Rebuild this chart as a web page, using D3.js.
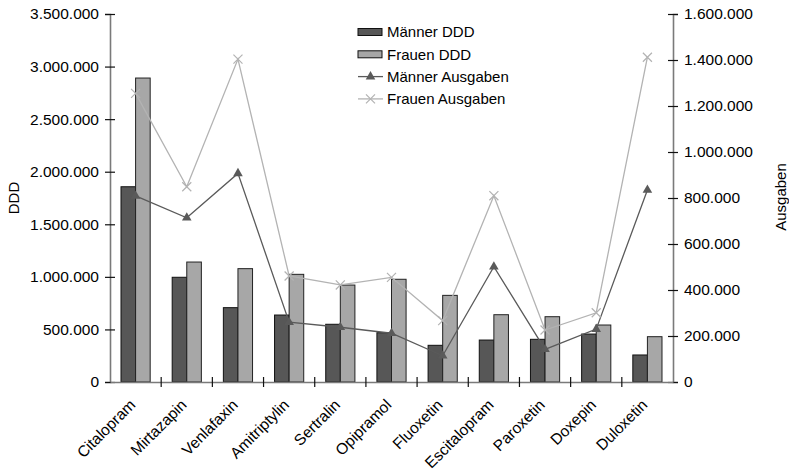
<!DOCTYPE html>
<html>
<head>
<meta charset="utf-8">
<script src="https://cdn.jsdelivr.net/npm/d3@7"></script>
<style>
  html, body { margin: 0; padding: 0; background: #fff; }
  svg text { font-family: "Liberation Sans", Arial, sans-serif; fill: #000; }
</style>
</head>
<body>
<svg id="chart" width="789" height="473"></svg>
<script>
// Antidepressiva: verordnete Tagesdosen (DDD) und Ausgaben nach Geschlecht
const categories = ["Citalopram", "Mirtazapin", "Venlafaxin", "Amitriptylin", "Sertralin",
  "Opipramol", "Fluoxetin", "Escitalopram", "Paroxetin", "Doxepin", "Duloxetin"];
const maennerDDD = [1857000, 996000, 707000, 637000, 549000, 469000, 349000, 399000, 406000, 456000, 257000];
const frauenDDD = [2891000, 1141000, 1078000, 1024000, 922000, 977000, 824000, 640000, 621000, 542000, 431000];
const maennerAusgaben = [809000, 714000, 907000, 260000, 238000, 212000, 114000, 501000, 142000, 230000, 835000];
const frauenAusgaben = [1255000, 849000, 1404000, 461000, 422000, 455000, 267000, 810000, 226000, 301000, 1412000];
const leftTicks = [0, 500000, 1000000, 1500000, 2000000, 2500000, 3000000, 3500000];
const rightTicks = [0, 200000, 400000, 600000, 800000, 1000000, 1200000, 1400000, 1600000];
const seriesNames = ["Männer DDD", "Frauen DDD", "Männer Ausgaben", "Frauen Ausgaben"];

const de = d3.formatLocale({ decimal: ",", thousands: ".", grouping: [3], currency: ["", " €"] });
const fmt = de.format(",.0f");

const svg = d3.select("#chart");
const plot = { left: 110, right: 673, top: 14, bottom: 382 };

const x = d3.scaleBand().domain(categories).range([plot.left, plot.right]).padding(0);
const yL = d3.scaleLinear().domain([0, 3500000]).range([plot.bottom, plot.top]);
const yR = d3.scaleLinear().domain([0, 1600000]).range([plot.bottom, plot.top]);
const groupW = x.bandwidth() * 0.57;
const x1 = d3.scaleBand().domain(["m", "f"]).range([0, groupW]).padding(0);

const colors = { mBar: "#575757", fBar: "#a7a7a7", mLine: "#5a5a5a", fLine: "#b3b3b3" };

// Bars
const barData = categories.map((c, i) => ({ c, m: maennerDDD[i], f: frauenDDD[i] }));
const groups = svg.append("g").selectAll("g").data(barData).join("g")
  .attr("transform", d => `translate(${x(d.c) + (x.bandwidth() - groupW) / 2},0)`);
groups.append("rect")
  .attr("x", x1("m")).attr("width", x1.bandwidth())
  .attr("y", d => yL(d.m)).attr("height", d => yL(0) - yL(d.m))
  .attr("fill", colors.mBar).attr("stroke", "#111").attr("stroke-width", 1);
groups.append("rect")
  .attr("x", x1("f")).attr("width", x1.bandwidth())
  .attr("y", d => yL(d.f)).attr("height", d => yL(0) - yL(d.f))
  .attr("fill", colors.fBar).attr("stroke", "#222").attr("stroke-width", 1);

// Axes
const gL = svg.append("g").attr("transform", `translate(${plot.left},0)`)
  .call(d3.axisLeft(yL).tickValues(leftTicks).tickFormat(fmt).tickSize(5).tickPadding(6));
const gR = svg.append("g").attr("transform", `translate(${plot.right},0)`)
  .call(d3.axisRight(yR).tickValues(rightTicks).tickFormat(fmt).tickSize(5).tickPadding(6));
const gB = svg.append("g").attr("transform", `translate(0,${plot.bottom})`)
  .call(d3.axisBottom(x).tickSize(0).tickFormat(""));

[gL, gR].forEach(g => {
  g.select(".domain").attr("stroke", "#7a7a7a").attr("stroke-width", 1.6);
  g.selectAll(".tick line").attr("stroke", "#111").attr("stroke-width", 1.2);
  g.selectAll(".tick text").attr("font-size", 15.5).attr("font-family", "Liberation Sans, Arial, sans-serif").attr("fill", "#000");
});
// ticks cross the axis line
gL.selectAll(".tick line").attr("x1", 5).attr("x2", -5);
gR.selectAll(".tick line").attr("x1", -5).attr("x2", 5);

gB.select(".domain").attr("stroke", "#7a7a7a").attr("stroke-width", 1.6);
// category separators crossing the baseline
const sepPositions = categories.slice(1).map(c => x(c));
svg.append("g").selectAll("line").data(sepPositions).join("line")
  .attr("x1", d => d).attr("x2", d => d)
  .attr("y1", plot.bottom - 5).attr("y2", plot.bottom + 5)
  .attr("stroke", "#111").attr("stroke-width", 1.2);

// Category labels, rotated
svg.append("g").selectAll("text").data(categories).join("text")
  .attr("transform", d => `translate(${x(d) + x.bandwidth() / 2 - 3},${plot.bottom + 20}) rotate(-45)`)
  .attr("text-anchor", "end").attr("dy", "0.35em")
  .attr("font-size", 15.5)
  .text(d => d);

// Axis titles
svg.append("text").attr("transform", `translate(19,198) rotate(-90)`)
  .attr("text-anchor", "middle").attr("font-size", 15).text("DDD");
svg.append("text").attr("transform", `translate(786,197) rotate(-90)`)
  .attr("text-anchor", "middle").attr("font-size", 15).text("Ausgaben");

// Lines
const cx = c => x(c) + x.bandwidth() / 2;
const lineM = d3.line().x((d, i) => cx(categories[i])).y(d => yR(d));
svg.append("path").datum(maennerAusgaben).attr("d", lineM)
  .attr("fill", "none").attr("stroke", colors.mLine).attr("stroke-width", 1.3);
svg.append("path").datum(frauenAusgaben).attr("d", lineM)
  .attr("fill", "none").attr("stroke", colors.fLine).attr("stroke-width", 1.3);

const tri = d3.symbol().type(d3.symbolTriangle).size(40);
svg.append("g").selectAll("path").data(maennerAusgaben).join("path")
  .attr("d", tri)
  .attr("transform", (d, i) => `translate(${cx(categories[i])},${yR(d)})`)
  .attr("fill", colors.mLine);
const cross = d3.symbol().type(d3.symbolX).size(55);
svg.append("g").selectAll("path").data(frauenAusgaben).join("path")
  .attr("d", cross)
  .attr("transform", (d, i) => `translate(${cx(categories[i])},${yR(d)})`)
  .attr("fill", "none").attr("stroke", colors.fLine).attr("stroke-width", 1.2);

// Legend
const legend = svg.append("g").attr("transform", "translate(358,32)");
const rowH = 22.3;
seriesNames.forEach((name, i) => {
  const g = legend.append("g").attr("transform", `translate(0,${i * rowH})`);
  if (i < 2) {
    g.append("rect").attr("x", 0).attr("y", -3.5).attr("width", 24).attr("height", 7)
      .attr("fill", i === 0 ? colors.mBar : colors.fBar).attr("stroke", "#111").attr("stroke-width", 1);
  } else {
    const col = i === 2 ? colors.mLine : colors.fLine;
    g.append("line").attr("x1", 0).attr("x2", 25).attr("y1", 0).attr("y2", 0)
      .attr("stroke", col).attr("stroke-width", 1.3);
    g.append("path").attr("d", i === 2 ? tri() : cross())
      .attr("transform", "translate(12.5,0)")
      .attr("fill", i === 2 ? col : "none").attr("stroke", i === 2 ? "none" : col).attr("stroke-width", 1.2);
  }
  g.append("text").attr("x", 29).attr("dy", "0.35em").attr("font-size", 15).text(name);
});
</script>
</body>
</html>
